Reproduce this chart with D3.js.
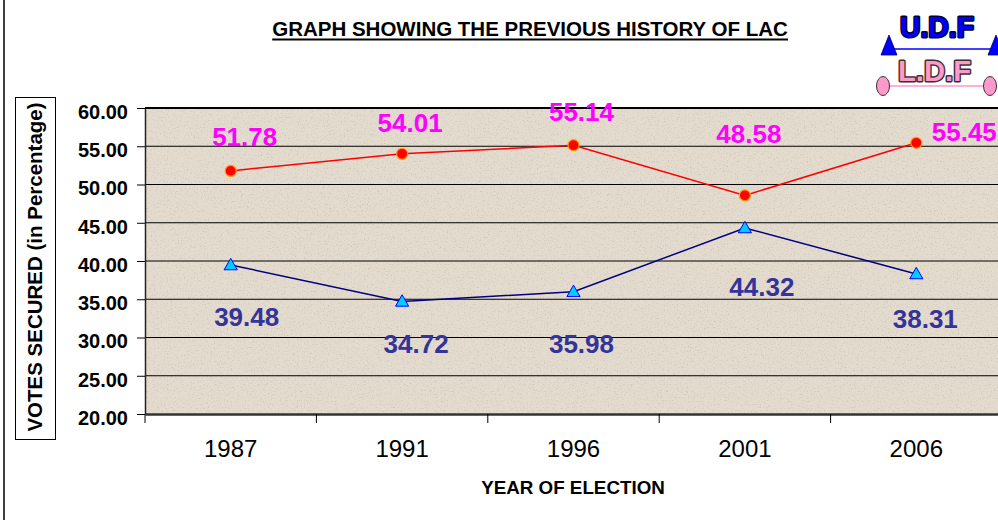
<!DOCTYPE html>
<html>
<head>
<meta charset="utf-8">
<script src="https://cdn.jsdelivr.net/npm/d3@7"></script>
<style>
  body { margin: 0; background: #fff; }
  svg { display: block; font-family: "Liberation Sans", Arial, sans-serif; }
</style>
</head>
<body>
<svg id="chart" width="998" height="520"></svg>
<script>
// data
var years = ["1987", "1991", "1996", "2001", "2006"];
var ldfVotes = [51.78, 54.01, 55.14, 48.58, 55.45];
var udfVotes = [39.48, 34.72, 35.98, 44.32, 38.31];
var yTicks = [20, 25, 30, 35, 40, 45, 50, 55, 60];

var svg = d3.select("#chart");
var plot = { left: 145, right: 1002, top: 108, bottom: 414 };

var x = d3.scaleBand().domain(years).range([plot.left, plot.right]);
var y = d3.scaleLinear().domain([20, 60]).range([plot.bottom, plot.top]);

/* paper texture for the plot area */
var defs = svg.append("defs");
var f = defs.append("filter").attr("id", "paper")
  .attr("x", 0).attr("y", 0).attr("width", "100%").attr("height", "100%");
f.append("feTurbulence").attr("type", "fractalNoise")
  .attr("baseFrequency", 0.7).attr("numOctaves", 3).attr("seed", 5);
f.append("feColorMatrix").attr("type", "matrix")
  .attr("values", "0 0 0 0 0.55  0 0 0 0 0.48  0 0 0 0 0.40  3.2 0 0 0 -1.75");

// outer frame line on the left
svg.append("line").attr("x1", 4).attr("x2", 4).attr("y1", 0).attr("y2", 520)
  .attr("stroke", "#000").attr("stroke-width", 1.5);

svg.append("rect")
  .attr("x", plot.left).attr("y", plot.top)
  .attr("width", plot.right - plot.left).attr("height", plot.bottom - plot.top)
  .attr("fill", "#e4dbcf");
svg.append("rect")
  .attr("x", plot.left).attr("y", plot.top)
  .attr("width", plot.right - plot.left).attr("height", plot.bottom - plot.top)
  .attr("filter", "url(#paper)").attr("opacity", 0.6);

/* gridlines */
svg.append("g").selectAll("line")
  .data(yTicks.slice(1))
  .enter().append("line")
  .attr("x1", plot.left).attr("x2", plot.right)
  .attr("y1", function(d) { return y(d); })
  .attr("y2", function(d) { return y(d); })
  .attr("stroke", "#000")
  .attr("stroke-width", function(d) { return d === 60 ? 2 : 1; });

/* y axis */
var yAxis = svg.append("g")
  .attr("transform", "translate(" + plot.left + ",0)")
  .call(d3.axisLeft(y).tickValues(yTicks).tickFormat(d3.format(".2f"))
    .tickSize(8).tickSizeOuter(0).tickPadding(9));
yAxis.select(".domain").attr("stroke", "#222").attr("stroke-width", 1.5);
yAxis.selectAll(".tick line").attr("stroke", "#000");
yAxis.selectAll(".tick text")
  .attr("dy", "0.62em")
  .attr("y", -2)
  .style("font-size", "20px").style("font-weight", "bold").attr("fill", "#000");

/* x axis */
var xAxis = svg.append("g")
  .attr("transform", "translate(0," + plot.bottom + ")")
  .call(d3.axisBottom(x).tickSize(0).tickPadding(26).tickSizeOuter(0));
xAxis.select(".domain").attr("stroke", "#333").attr("stroke-width", 2.5);
xAxis.selectAll(".tick text")
  .style("font-size", "24px").attr("fill", "#000");
xAxis.selectAll(".bound")
  .data(years)
  .enter().append("line").attr("class", "bound")
  .attr("x1", function(d) { return x(d); })
  .attr("x2", function(d) { return x(d); })
  .attr("y1", 0).attr("y2", 9)
  .attr("stroke", "#000");

svg.append("text")
  .attr("x", 573).attr("y", 494)
  .attr("text-anchor", "middle")
  .style("font-size", "18.8px").style("font-weight", "bold")
  .text("YEAR OF ELECTION");

/* y axis title in its box */
svg.append("rect").attr("x", 15.5).attr("y", 97.5).attr("width", 40).attr("height", 342)
  .attr("fill", "#fff").attr("stroke", "#000");
svg.append("text")
  .attr("transform", "translate(42,267) rotate(-90)")
  .attr("text-anchor", "middle")
  .style("font-size", "20.5px").style("font-weight", "bold")
  .text("VOTES SECURED (in Percentage)");

/* title */
var title = svg.append("text")
  .attr("x", 530).attr("y", 36)
  .attr("text-anchor", "middle")
  .style("font-size", "20.5px").style("font-weight", "bold")
  .text("GRAPH SHOWING THE PREVIOUS HISTORY OF LAC");
var tb = title.node().getBBox();
svg.append("line").attr("x1", tb.x).attr("x2", tb.x + tb.width)
  .attr("y1", 39.5).attr("y2", 39.5).attr("stroke", "#000").attr("stroke-width", 2);

/* series */
function cx(d, i) { return x(years[i]) + x.bandwidth() / 2; }

var line = d3.line()
  .x(function(d, i) { return cx(d, i); })
  .y(function(d) { return y(d); });

svg.append("path").datum(ldfVotes)
  .attr("d", line).attr("fill", "none")
  .attr("stroke", "#ff0000").attr("stroke-width", 1.5);
svg.append("path").datum(udfVotes)
  .attr("d", line).attr("fill", "none")
  .attr("stroke", "#000080").attr("stroke-width", 1.5);

svg.append("g").selectAll("circle")
  .data(ldfVotes)
  .enter().append("circle")
  .attr("cx", cx)
  .attr("cy", function(d) { return y(d); })
  .attr("r", 5.5)
  .attr("fill", "#ff0000").attr("stroke", "#ff9900").attr("stroke-width", 1.2);

var tri = d3.symbol().type(d3.symbolTriangle).size(75);
svg.append("g").selectAll("path")
  .data(udfVotes)
  .enter().append("path")
  .attr("d", tri)
  .attr("transform", function(d, i) { return "translate(" + cx(d, i) + "," + (y(d) + 1) + ")"; })
  .attr("fill", "#00ccff").attr("stroke", "#0000ff").attr("stroke-width", 1);

/* data labels, dragged about by hand in the original */
var ldfShift = [[14, -25], [8, -22], [8, -24], [4, -52], [48, -2]];
var udfShift = [[16, 61], [14, 52], [8, 61], [17, 68], [9, 54]];

svg.append("g").selectAll("text")
  .data(ldfVotes)
  .enter().append("text")
  .attr("x", function(d, i) { return cx(d, i) + ldfShift[i][0]; })
  .attr("y", function(d, i) { return y(d) + ldfShift[i][1]; })
  .attr("text-anchor", "middle")
  .style("font-size", "26px").style("font-weight", "bold")
  .attr("fill", "#ff00ff")
  .text(function(d) { return d.toFixed(2); });

svg.append("g").selectAll("text")
  .data(udfVotes)
  .enter().append("text")
  .attr("x", function(d, i) { return cx(d, i) + udfShift[i][0]; })
  .attr("y", function(d, i) { return y(d) + udfShift[i][1]; })
  .attr("text-anchor", "middle")
  .style("font-size", "26px").style("font-weight", "bold")
  .attr("fill", "#333399")
  .text(function(d) { return d.toFixed(2); });

/* U.D.F / L.D.F badge in the corner */
var logo = svg.append("g");
logo.append("line").attr("x1", 893).attr("x2", 992).attr("y1", 49).attr("y2", 49)
  .attr("stroke", "#0000ff").attr("stroke-width", 1.5);
[889, 996].forEach(function(px) {
  logo.append("path")
    .attr("d", "M" + px + ",35 L" + (px + 8) + ",55 L" + (px - 8) + ",55 Z")
    .attr("fill", "#0000ff").attr("stroke", "#000066").attr("stroke-width", 0.8);
});
logo.append("text").attr("x", 937).attr("y", 37).attr("text-anchor", "middle")
  .style("font-size", "30px").style("font-weight", "bold")
  .attr("fill", "#0000ff").attr("stroke", "#000033").attr("stroke-width", 3)
  .attr("paint-order", "stroke fill").attr("stroke-linejoin", "round")
  .attr("textLength", 74).attr("lengthAdjust", "spacingAndGlyphs")
  .text("U.D.F");
logo.append("line").attr("x1", 889).attr("x2", 985).attr("y1", 86).attr("y2", 86)
  .attr("stroke", "#ff99cc").attr("stroke-width", 1.5);
[883, 990].forEach(function(px) {
  logo.append("ellipse").attr("cx", px).attr("cy", 86).attr("rx", 6.5).attr("ry", 9.5)
    .attr("fill", "#ff99cc").attr("stroke", "#333").attr("stroke-width", 1);
});
logo.append("text").attr("x", 934.5).attr("y", 81).attr("text-anchor", "middle")
  .style("font-size", "30px").style("font-weight", "bold")
  .attr("fill", "#ff99cc").attr("stroke", "#333").attr("stroke-width", 3)
  .attr("paint-order", "stroke fill").attr("stroke-linejoin", "round")
  .attr("textLength", 73).attr("lengthAdjust", "spacingAndGlyphs")
  .text("L.D.F");
</script>
</body>
</html>
